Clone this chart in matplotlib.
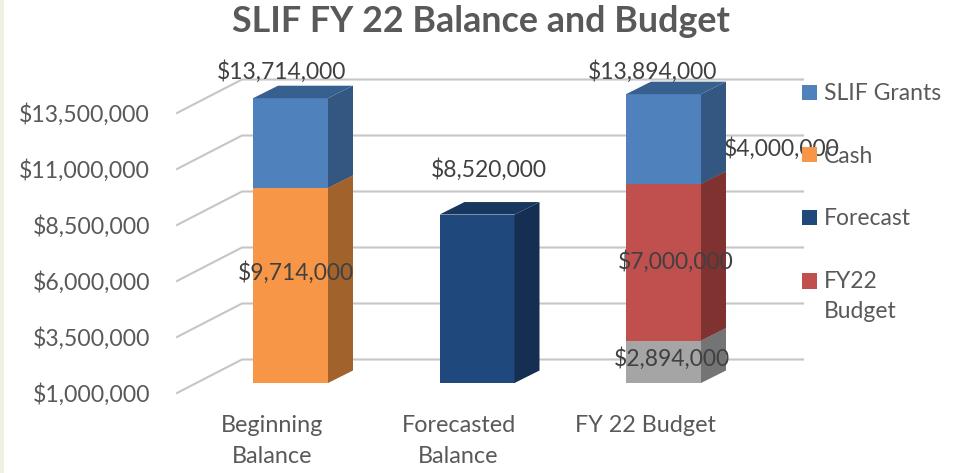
import matplotlib
matplotlib.use("Agg")
import matplotlib.pyplot as plt
from matplotlib.patches import Patch

plt.rcParams['font.family'] = ['Lato', 'DejaVu Sans']

# -----------------------------
# Data
# -----------------------------
categories = ["Beginning\nBalance", "Forecasted\nBalance", "FY 22 Budget"]
y_ticks = [1000000, 3500000, 6000000, 8500000, 11000000, 13500000]

grey_part = [0, 0, 2894000]
cash = [9714000, 0, 0]
forecast = [0, 8520000, 0]
fy22_budget = [0, 0, 7000000]
slif_grants = [4000000, 0, 4000000]

# stacked bottom to top: name, values, front / side / top colours
series = [
    ("Other", grey_part, "#a5a5a5", "#747474", "#8a8a8a"),
    ("Cash", cash, "#f79646", "#a2622c", "#b87034"),
    ("Forecast", forecast, "#1f497d", "#152f52", "#17375e"),
    ("FY22\nBudget", fy22_budget, "#c0504d", "#7f3230", "#8f3a38"),
    ("SLIF Grants", slif_grants, "#4f81bd", "#335780", "#37608f"),
]
legend_order = ["SLIF Grants", "Cash", "Forecast", "FY22\nBudget"]

labels = [
    (0, "$13,714,000", 282, 72),
    (0, "$9,714,000", 296, 273),
    (1, "$8,520,000", 489, 170),
    (2, "$13,894,000", 653, 72),
    (2, "$4,000,000", 782, 149),
    (2, "$7,000,000", 676, 262),
    (2, "$2,894,000", 672, 359),
]

# -----------------------------
# Layout (pixels)
# -----------------------------
W, H = 957, 473
AX_L, AX_R, AX_B, AX_T = 177, 803, 393, 60
PX_Y = 2500000 / 56      # value per pixel
CAT_X0, CAT_DX = 272, 186.5
Y_MIN = y_ticks[0]

fig = plt.figure(figsize=(W / 100, H / 100), dpi=100, facecolor="white")
ax = fig.add_axes([AX_L / W, 1 - AX_B / H, (AX_R - AX_L) / W, (AX_B - AX_T) / H])
ax.set_xlim((AX_L - CAT_X0) / CAT_DX, (AX_R - CAT_X0) / CAT_DX)
ax.set_ylim(Y_MIN, Y_MIN + (AX_B - AX_T) * PX_Y)
for s in ax.spines.values():
    s.set_visible(False)
ax.patch.set_alpha(0)


def px_x(px):
    return (px - CAT_X0) / CAT_DX


def px_y(px):
    return Y_MIN + (AX_B - px) * PX_Y


# gridlines: slanted floor edge then back wall
for v in y_ticks:
    wall_x = px_x(242)
    wall_y = v + 33.5 * PX_Y
    ax.plot([px_x(AX_L), wall_x, px_x(AX_R)], [v, wall_y, wall_y],
            color="#c6c6c6", lw=1.5, clip_on=False, zorder=1, solid_joinstyle="miter")

# bars
bar_dx = 18.5 / CAT_DX
bar_w = 75 / CAT_DX
bar_lift = 10 * PX_Y
depth_x = 25 / CAT_DX
depth_y = 12.5 * PX_Y

stack = [Y_MIN] * len(categories)
handles = {}
for name, values, front, side, top in series:
    handles[name] = Patch(facecolor=front, label=name)
    for i, val in enumerate(values):
        if val == 0:
            continue
        # the first segment starts from the cut-off axis floor, not from zero
        bottom = stack[i] if stack[i] > Y_MIN else 0
        y0 = max(bottom, Y_MIN) + bar_lift
        y1 = bottom + val + bar_lift
        x0 = i + bar_dx - bar_w / 2
        x1 = i + bar_dx + bar_w / 2
        ax.bar(i + bar_dx, y1 - y0, width=bar_w, bottom=y0, color=front,
               zorder=3, clip_on=False)
        ax.fill([x1, x1 + depth_x, x1 + depth_x, x1],
                [y0, y0 + depth_y, y1 + depth_y, y1],
                color=side, lw=0, zorder=3, clip_on=False)
        ax.fill([x0, x0 + depth_x, x1 + depth_x, x1],
                [y1, y1 + depth_y, y1 + depth_y, y1],
                color=top, lw=0, zorder=3, clip_on=False)
        stack[i] = bottom + val

# axes text
ax.set_yticks(y_ticks)
ax.set_yticklabels([f"${v:,.0f}" for v in y_ticks])
ax.set_xticks(range(len(categories)))
ax.set_xticklabels(categories, linespacing=1.6)
ax.tick_params(axis="y", length=0, pad=19.5, labelsize=16.6, labelcolor="#595959")
ax.tick_params(axis="x", length=0, pad=16, labelsize=16.8, labelcolor="#595959")

# data labels
for i, txt, lx, ly in labels:
    ax.text(px_x(lx), px_y(ly), txt, ha="center", va="center", fontsize=16.5,
            color="#404040", zorder=5, clip_on=False)

fig.text(481 / W, 1 - 21 / H, "SLIF FY 22 Balance and Budget", ha="center", va="center",
         fontsize=25.8, fontweight="bold", color="#595959")

leg = ax.legend(handles=[handles[n] for n in legend_order], frameon=False,
                loc="upper left", bbox_to_anchor=(784 / W, 1 - 65 / H),
                bbox_transform=fig.transFigure, fontsize=16.5, labelcolor="#595959",
                handlelength=0.66, handleheight=0.66, handletextpad=0.3,
                labelspacing=1.81, borderpad=0.3)
for t in leg.get_texts():
    t.set_linespacing(1.55)
# two-line entry: square sits level with the first line
fy22_patch = leg.get_patches()[3]
fy22_patch.set_y(fy22_patch.get_y() + 11.5)

# pale strip on the left edge of the slide
fig.patches.append(plt.Rectangle((0, 0), 3.5 / W, 1, transform=fig.transFigure,
                                 facecolor="#eef2e3", edgecolor="none"))

fig.savefig("out.png", dpi=100)
